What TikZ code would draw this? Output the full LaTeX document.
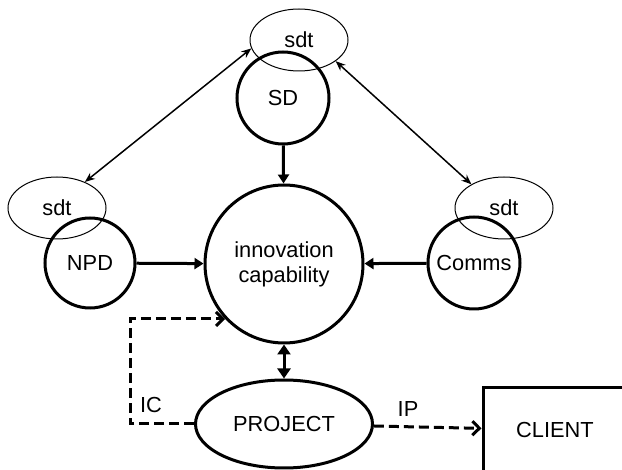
\documentclass[tikz,border=0pt]{standalone}
\usepackage{fontspec}
\setmainfont{Liberation Sans}
\usetikzlibrary{arrows.meta,shapes.geometric,positioning}

\begin{document}
\begin{tikzpicture}[
  x=0.5pt, y=-0.5pt,
  >={Stealth[length=5pt,width=4pt]},
  font=\fontsize{10.9}{12.5}\selectfont,
  unit/.style={draw, circle, line width=1.5pt, inner sep=0pt, align=center},
  tool/.style={draw, ellipse, line width=0.5pt, minimum width=49pt, minimum height=31pt, inner sep=0pt},
  link/.style={<->, line width=0.75pt},
  feed/.style={-{Triangle[length=4.5pt,width=5.5pt]}, line width=1.5pt},
  both/.style={{Triangle[length=5pt,width=6.5pt]}-{Triangle[length=5pt,width=6.5pt]}, line width=1.5pt},
  flow/.style={-{Straight Barb[length=3.5pt,width=7pt]}, line width=1.5pt, dash pattern=on 5pt off 2.5pt},
]
\useasboundingbox (0,0) rectangle (622,470);
\clip (0,0) rectangle (622,470);

% ============================================================ UNITS
\node[tool] (sdtSD) at (299,40) {sdt};
\node[unit, minimum size=46pt] (SD) at (283,98) {SD};

\node[tool] (sdtNPD) at (57,208) {sdt};
\node[unit, minimum size=45pt] (NPD) at (90,263) {NPD};

\node[tool] (sdtComms) at (504,208) {sdt};
\node[unit, minimum size=46pt] (Comms) at (474,263) {Comms};

\node[unit, minimum size=79pt] (innov) at (284,264) {innovation\\capability};

% sdt links between the units
\draw[link] (sdtSD.190) -- (sdtNPD.43);
\draw[link] (sdtSD.330) -- (sdtComms.144);

\draw[feed] (SD) -- (innov);
\draw[feed] (NPD) -- (innov);
\draw[feed] (Comms) -- (innov);

% ============================================================ PROJECT
\node[draw, ellipse, line width=1.5pt, minimum width=88.5pt, minimum height=44pt, inner sep=0pt] (project) at (284,424) {PROJECT};
\node[draw, rectangle, line width=1.5pt, minimum width=72pt, minimum height=42pt] (client) at (555,430) {CLIENT};

\draw[both] (innov) -- (project);

\draw[flow] (project.west) -- ++(-64,0) |- (innov.223);
\node (IC) at (151,405) {IC};

\draw[flow] (project) -- (client);
\node (IP) at (408,409) {IP};

\end{tikzpicture}
\end{document}
